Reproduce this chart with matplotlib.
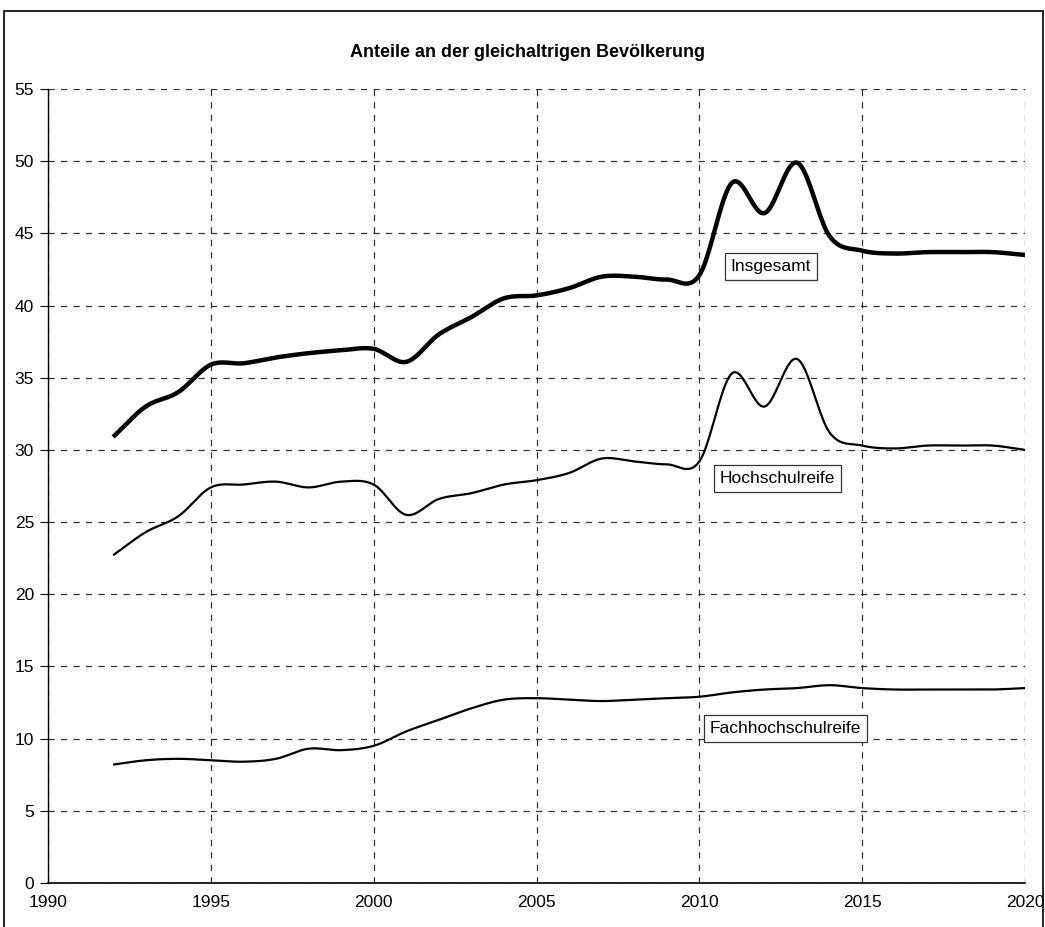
import numpy as np
import matplotlib.pyplot as plt
from matplotlib.patches import Rectangle

plt.rcParams['font.family'] = ['Liberation Sans Narrow', 'Liberation Sans', 'DejaVu Sans']

years = list(range(1992, 2021))
insgesamt = [30.9, 33.0, 34.0, 35.9, 36.0, 36.4, 36.7, 36.9, 37.0, 36.1,
             38.0, 39.2, 40.5, 40.7, 41.2, 42.0, 42.0, 41.8, 42.1, 48.5,
             46.4, 49.9, 44.8, 43.8, 43.6, 43.7, 43.7, 43.7, 43.5]
hochschulreife = [22.7, 24.3, 25.4, 27.4, 27.6, 27.8, 27.4, 27.8, 27.6, 25.5,
                  26.6, 27.0, 27.6, 27.9, 28.4, 29.4, 29.2, 29.0, 29.2, 35.3,
                  33.0, 36.3, 31.2, 30.3, 30.1, 30.3, 30.3, 30.3, 30.0]
fachhochschulreife = [8.2, 8.5, 8.6, 8.5, 8.4, 8.6, 9.3, 9.2, 9.5, 10.5,
                      11.3, 12.1, 12.7, 12.8, 12.7, 12.6, 12.7, 12.8, 12.9, 13.2,
                      13.4, 13.5, 13.7, 13.5, 13.4, 13.4, 13.4, 13.4, 13.5]

series_names = ["Insgesamt", "Hochschulreife", "Fachhochschulreife"]
label_pos = [(2012.2, 42.7), (2012.4, 28.0), (2012.65, 10.7)]


# smoothed line like the spreadsheet chart (Catmull-Rom between yearly points)
def smooth(x, y, n=20):
    x = np.asarray(x, float)
    y = np.asarray(y, float)
    px = np.concatenate([[2 * x[0] - x[1]], x, [2 * x[-1] - x[-2]]])
    py = np.concatenate([[2 * y[0] - y[1]], y, [2 * y[-1] - y[-2]]])
    t = np.linspace(0, 1, n, endpoint=False)
    xs, ys = [], []
    for i in range(1, len(px) - 2):
        for p, out in ((px, xs), (py, ys)):
            p0, p1, p2, p3 = p[i - 1], p[i], p[i + 1], p[i + 2]
            out.extend(0.5 * ((2 * p1) + (-p0 + p2) * t
                              + (2 * p0 - 5 * p1 + 4 * p2 - p3) * t ** 2
                              + (-p0 + 3 * p1 - 3 * p2 + p3) * t ** 3))
    xs.append(x[-1])
    ys.append(y[-1])
    return xs, ys


fig = plt.figure(figsize=(10.45, 9.27), dpi=100)
ax = fig.add_axes([0.0459, 0.0475, 0.935, 0.8565])

for vals, lw in ((insgesamt, 3.2), (hochschulreife, 1.6), (fachhochschulreife, 1.6)):
    sx, sy = smooth(years, vals)
    ax.plot(sx, sy, color='black', lw=lw, solid_capstyle='butt', zorder=3)

for name, (lx, ly) in zip(series_names, label_pos):
    ax.text(lx, ly, name, ha='center', va='center', fontsize=12.5, zorder=4,
            bbox=dict(boxstyle='square,pad=0.35', fc='white', ec='#333333', lw=0.9))

ax.set_xlim(1990, 2020)
ax.set_ylim(0, 55)
ax.set_xticks(range(1990, 2021, 5))
ax.set_yticks(range(0, 56, 5))
ax.grid(True, color='#333333', linestyle=(0, (5, 5)), lw=0.9)
ax.set_axisbelow(True)
for s in ('top', 'right'):
    ax.spines[s].set_visible(False)
ax.spines['left'].set_linewidth(1.0)
ax.spines['bottom'].set_linewidth(1.2)
ax.tick_params(axis='y', length=6, labelsize=12.5, pad=4)
ax.tick_params(axis='x', length=0, labelsize=12.5, pad=9)

fig.text(0.505, 0.943, "Anteile an der gleichaltrigen Bevölkerung",
         ha='center', va='center', fontsize=13, fontweight='bold')

fig.patches.append(Rectangle((0.004, -0.01), 0.994, 0.998, transform=fig.transFigure,
                             fill=False, ec='black', lw=1.2))

fig.savefig('out.png', dpi=100)
